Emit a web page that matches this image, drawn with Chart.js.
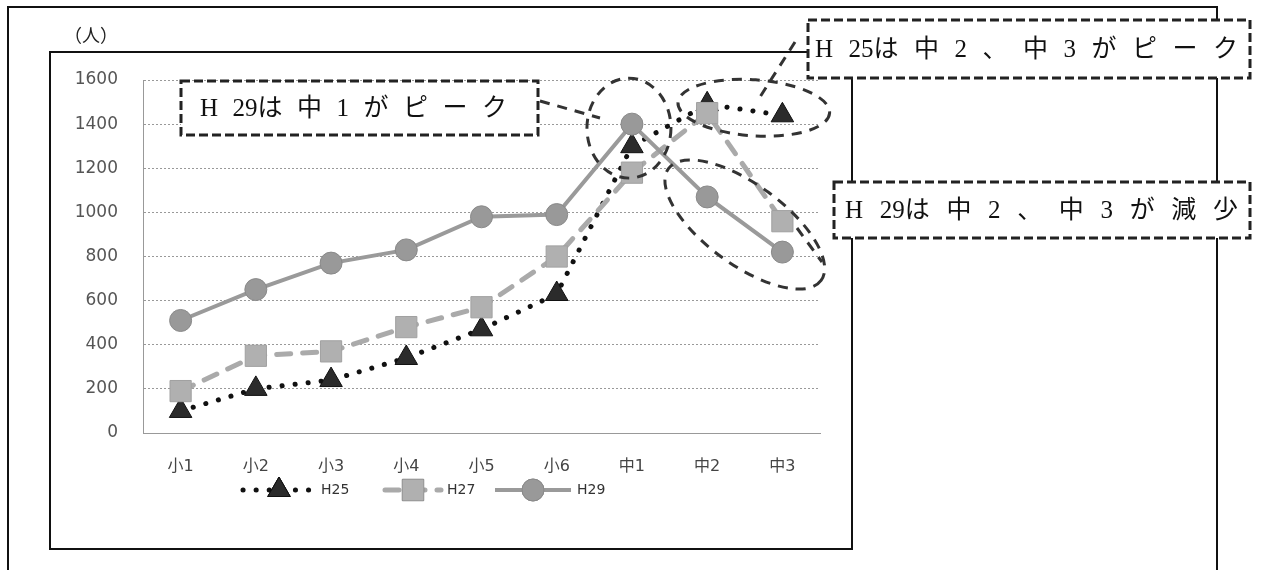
<!DOCTYPE html>
<html>
<head>
<meta charset="utf-8">
<script src="https://cdn.jsdelivr.net/npm/chart.js@4.4.0/dist/chart.umd.min.js"></script>
<style>
    html, body { margin: 0; padding: 0; background: #fff; }
    #wrap { width: 1262px; height: 570px; }
</style>
</head>
<body>
<div id="wrap"><canvas id="graph" width="1262" height="570"></canvas></div>
<script>
// donnees
var grades = ['小1', '小2', '小3', '小4', '小5', '小6', '中1', '中2', '中3'];
var h25 = [100, 200, 240, 340, 470, 630, 1300, 1490, 1440];
var h27 = [190, 350, 370, 480, 570, 800, 1180, 1450, 960];
var h29 = [510, 650, 770, 830, 980, 990, 1400, 1070, 820];
var seriesNames = ['H25', 'H27', 'H29'];
var yMin = 0, yMax = 1600, yStep = 200;
var unitLabel = '（人）';
var notes = ['H29は中1がピーク', 'H25は中2、中3がピーク', 'H29は中2、中3が減少'];

var serif = '"Liberation Serif", "Noto Sans CJK JP", serif';
var sans = '"DejaVu Sans", "Noto Sans CJK JP", sans-serif';

function dashedEllipse(ctx, cx, cy, rx, ry, rot) {
    ctx.beginPath();
    ctx.ellipse(cx, cy, rx, ry, rot, 0, Math.PI * 2);
    ctx.stroke();
}

function dashedLine(ctx, x1, y1, x2, y2) {
    ctx.beginPath();
    ctx.moveTo(x1, y1);
    ctx.lineTo(x2, y2);
    ctx.stroke();
}

// texte espacé dans une boite pointillée
function noteBox(ctx, text, bx, by, bw, bh, tx0, tx1) {
    ctx.save();
    ctx.fillStyle = '#fff';
    ctx.fillRect(bx, by, bw, bh);
    ctx.strokeStyle = '#222';
    ctx.lineWidth = 3;
    ctx.setLineDash([9, 4]);
    ctx.strokeRect(bx, by, bw, bh);
    ctx.setLineDash([]);
    ctx.font = '25px ' + serif;
    ctx.fillStyle = '#111';
    ctx.textBaseline = 'middle';
    ctx.textAlign = 'left';
    var parts = text.match(/\d{2}.|./gu);
    var total = 0;
    parts.forEach(function (p) { total += ctx.measureText(p).width; });
    var gap = (tx1 - tx0 - total) / (parts.length - 1);
    var x = tx0;
    parts.forEach(function (p) {
        ctx.fillText(p, x, by + bh / 2 + 1);
        x += ctx.measureText(p).width + gap;
    });
    ctx.restore();
}

var framePlugin = {
    id: 'cadre',
    beforeDraw: function (chart) {
        var ctx = chart.ctx;
        ctx.save();
        ctx.fillStyle = '#fff';
        ctx.fillRect(0, 0, chart.width, chart.height);
        ctx.strokeStyle = '#111';
        ctx.lineWidth = 2;
        ctx.beginPath();
        ctx.moveTo(8, 570);
        ctx.lineTo(8, 7);
        ctx.lineTo(1217, 7);
        ctx.lineTo(1217, 570);
        ctx.stroke();
        ctx.strokeRect(50, 52, 802, 497);
        // unite
        ctx.font = '18px ' + serif;
        ctx.fillStyle = '#222';
        ctx.textBaseline = 'middle';
        ctx.fillText(unitLabel, 64, 37);
        ctx.restore();
    },
    afterDraw: function (chart) {
        var ctx = chart.ctx;
        var xs = chart.scales.x, ys = chart.scales.y;

        // legende : ligne + marqueur
        ctx.save();
        var legendY = 490;
        var starts = [243, 385, 495];
        var lens = [72, 56, 76];
        chart.data.datasets.forEach(function (ds, i) {
            var x0 = starts[i], x1 = starts[i] + lens[i];
            ctx.save();
            ctx.strokeStyle = ds.borderColor;
            ctx.lineWidth = ds.borderWidth;
            ctx.lineCap = ds.borderCapStyle || 'butt';
            ctx.setLineDash(ds.borderDash || []);
            dashedLine(ctx, x0, legendY, x1, legendY);
            ctx.restore();
            Chart.helpers.drawPoint(ctx, {
                pointStyle: ds.pointStyle,
                radius: ds.pointRadius,
                borderWidth: ds.pointBorderWidth,
                rotation: 0
            }, (x0 + x1) / 2, legendY);
            ctx.fillStyle = ds.pointBackgroundColor;
            ctx.strokeStyle = ds.pointBorderColor;
            ctx.lineWidth = ds.pointBorderWidth;
            ctx.fill();
            ctx.stroke();
            ctx.font = '14px ' + sans;
            ctx.fillStyle = '#333';
            ctx.textBaseline = 'middle';
            ctx.fillText(ds.label, x1 + 6, legendY);
        });
        ctx.restore();

        // annotations
        ctx.save();
        ctx.strokeStyle = '#333';
        ctx.lineWidth = 3;
        ctx.setLineDash([10, 8]);
        // cercle autour de 中1
        var cx = xs.getPixelForValue(6), cy = ys.getPixelForValue(h29[6]);
        dashedEllipse(ctx, cx - 3, cy + 4, 42, 50, 0);
        // ellipse H25 中2-中3
        var ax = xs.getPixelForValue(7), ay = ys.getPixelForValue(h25[7]);
        var bx = xs.getPixelForValue(8), by = ys.getPixelForValue(h25[8]);
        dashedEllipse(ctx, (ax + bx) / 2 + 9, (ay + by) / 2 - 2, 76, 28, 0.07);
        // ellipse H29 中2-中3
        ax = xs.getPixelForValue(7); ay = ys.getPixelForValue(h29[7]);
        bx = xs.getPixelForValue(8); by = ys.getPixelForValue(h29[8]);
        var ang = Math.atan2(by - ay, bx - ax);
        var half = Math.sqrt((bx - ax) * (bx - ax) + (by - ay) * (by - ay)) / 2;
        dashedEllipse(ctx, (ax + bx) / 2, (ay + by) / 2, half + 48, 40, ang);
        // traits de rappel
        dashedLine(ctx, 540, 101, 600, 118);
        dashedLine(ctx, 795, 42, 760, 97);
        dashedLine(ctx, 797, 228, 822, 262);
        ctx.restore();

        noteBox(ctx, notes[0], 181, 81, 357, 54, 200, 507);
        noteBox(ctx, notes[1], 808, 20, 442, 58, 815, 1238);
        noteBox(ctx, notes[2], 834, 182, 416, 56, 845, 1238);
    }
};

var dataTest = {
    labels: grades,
    datasets: [{
        label: seriesNames[0],
        data: h25,
        borderColor: '#111',
        borderWidth: 5,
        borderDash: [0.1, 13],
        borderCapStyle: 'round',
        pointStyle: 'triangle',
        pointRadius: 13,
        pointHoverRadius: 13,
        pointBackgroundColor: '#2b2b2b',
        pointBorderColor: '#111',
        pointBorderWidth: 1,
        order: 2
    }, {
        label: seriesNames[1],
        data: h27,
        borderColor: '#aaa',
        borderWidth: 5,
        borderDash: [14, 12],
        borderCapStyle: 'round',
        pointStyle: 'rect',
        pointRadius: 15,
        pointHoverRadius: 15,
        pointBackgroundColor: '#b0b0b0',
        pointBorderColor: '#a0a0a0',
        pointBorderWidth: 1,
        order: 1
    }, {
        label: seriesNames[2],
        data: h29,
        borderColor: '#9a9a9a',
        borderWidth: 4,
        pointStyle: 'circle',
        pointRadius: 11,
        pointHoverRadius: 11,
        pointBackgroundColor: '#999',
        pointBorderColor: '#8a8a8a',
        pointBorderWidth: 1,
        order: 0
    }]
};

var option = {
    responsive: false,
    animation: false,
    devicePixelRatio: 1,
    layout: { padding: { left: 0, right: 442, top: 80, bottom: 97 } },
    plugins: {
        legend: { display: false },
        tooltip: { enabled: false }
    },
    elements: { line: { tension: 0, fill: false } },
    scales: {
        x: {
            offset: true,
            grid: { display: false, drawTicks: false },
            border: { display: true, color: '#999', width: 1, dash: [2, 2] },
            ticks: { padding: 24, color: '#444', font: { size: 16, family: sans } },
            afterFit: function (scale) { scale.height = 40; }
        },
        y: {
            min: yMin,
            max: yMax,
            grid: { color: '#999', lineWidth: 1, drawTicks: false },
            border: { display: true, color: '#999', width: 1, dash: [2, 2] },
            ticks: {
                stepSize: yStep,
                padding: 25,
                color: '#555',
                font: { size: 17, family: sans },
                callback: function (v) { return String(v); }
            },
            afterFit: function (scale) { scale.width = 143; }
        }
    }
};

var ctx = document.getElementById('graph');
var myChart = new Chart(ctx, {
    type: 'line',
    data: dataTest,
    options: option,
    plugins: [framePlugin]
});
</script>
</body>
</html>
